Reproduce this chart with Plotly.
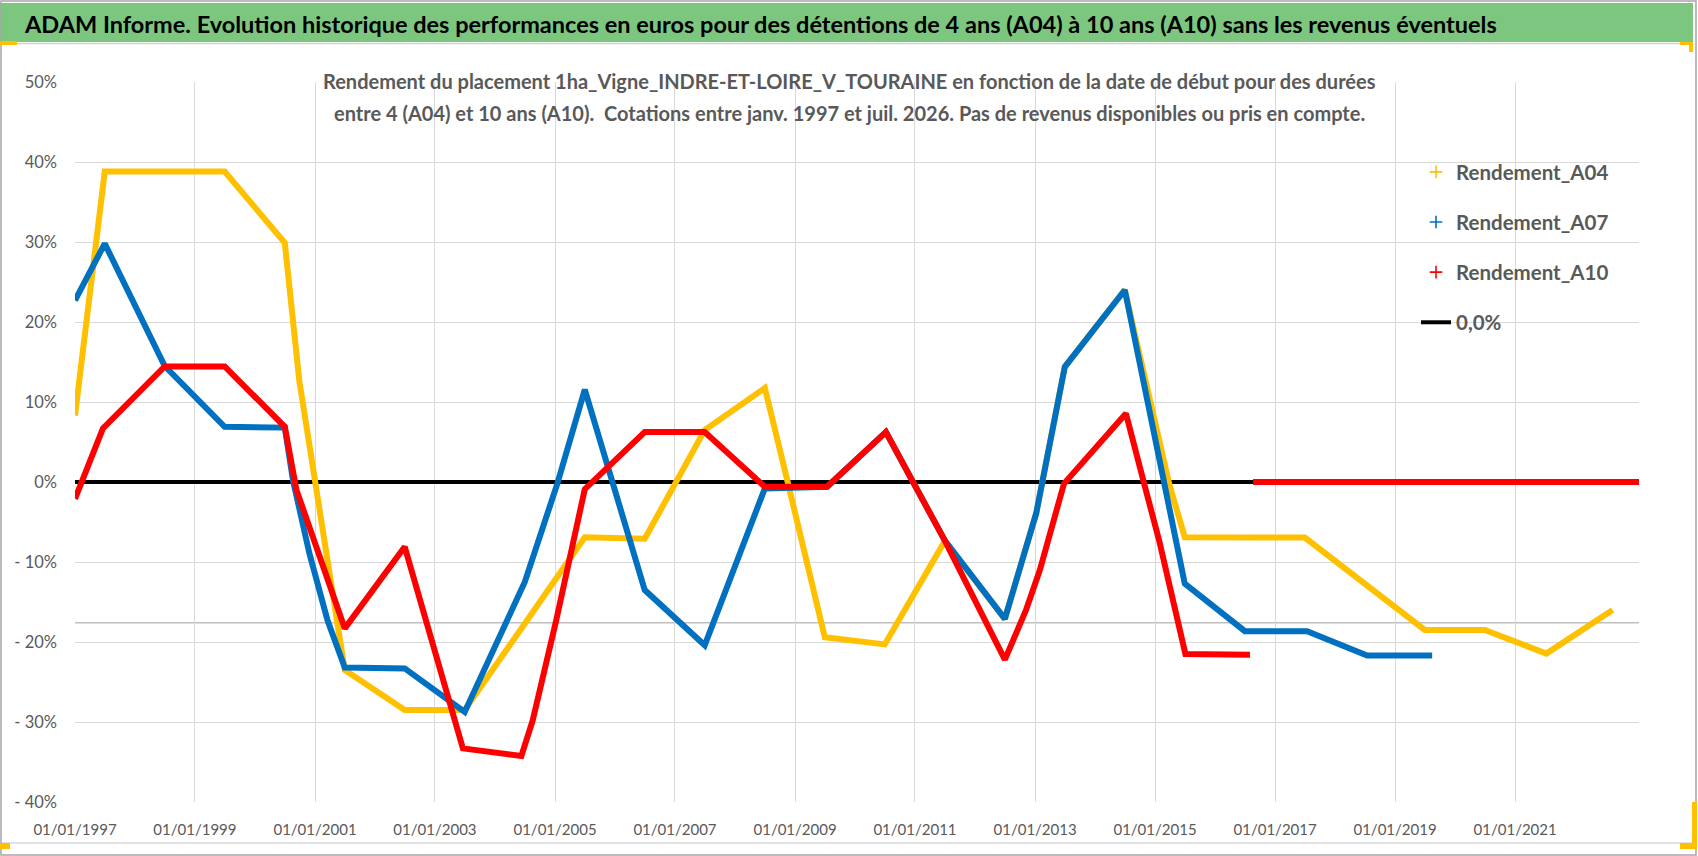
import plotly.graph_objects as go

# ---------------- data ----------------
A04_DATES = ["1997-01-01", "1997-07-01", "1999-07-01", "2000-07-01", "2000-09-27", "2001-07-01",
             "2002-07-01", "2003-07-01", "2005-07-01", "2006-07-01", "2007-07-01", "2008-07-01",
             "2008-11-17", "2009-07-01", "2010-07-01", "2011-07-01", "2012-07-01", "2013-01-08",
             "2013-07-01", "2014-07-01", "2015-03-28", "2015-07-01", "2017-07-01", "2019-07-01",
             "2020-07-01", "2021-07-10", "2022-08-17"]
A04_VALUES = [8.3, 38.8, 38.8, 29.9, 12.7, -23.5,
              -28.5, -28.5, -6.9, -7.1, 6.5, 11.75,
              0.0, -19.4, -20.3, -7.4, -17.1, -3.9,
              14.4, 24.0, -0.2, -6.9, -6.95, -18.5,
              -18.5, -21.45, -16.0]

A07_DATES = ["1997-01-01", "1997-07-01", "1998-07-01", "1999-07-01", "2000-07-01", "2000-08-20",
             "2000-11-28", "2001-03-18", "2001-07-01", "2002-07-01", "2003-07-01", "2004-07-01",
             "2005-01-15", "2005-07-01", "2006-07-01", "2007-07-01", "2008-07-01", "2009-07-15",
             "2010-07-08", "2011-07-01", "2012-07-01", "2013-01-08", "2013-07-01", "2014-07-01",
             "2015-07-01", "2016-07-01", "2017-07-15", "2018-07-15", "2019-08-15"]
A07_VALUES = [22.7, 29.8, 14.5, 6.9, 6.8, 0.2,
              -8.95, -17.3, -23.2, -23.3, -28.75, -12.5,
              -0.2, 11.55, -13.5, -20.4, -0.8, -0.6,
              6.25, -7.3, -17.1, -3.9, 14.4, 24.0,
              -12.7, -18.65, -18.65, -21.7, -21.7]

A10_DATES = ["1997-01-01", "1997-06-20", "1998-07-01", "1999-07-01", "2000-07-01", "2000-09-10",
             "2001-07-01", "2002-07-01", "2003-06-20", "2004-06-10", "2004-08-18", "2005-01-08",
             "2005-07-01", "2006-07-01", "2007-07-01", "2008-07-01", "2009-07-15", "2010-07-08",
             "2011-07-01", "2012-07-01", "2012-11-07", "2013-01-30", "2013-06-26", "2014-07-08",
             "2014-11-06", "2015-01-26", "2015-07-05", "2016-08-01", "2016-08-10",
             "2016-08-20", "2023-01-25"]
A10_VALUES = [-2.1, 6.7, 14.45, 14.45, 6.9, -1.0,
              -18.3, -8.1, -33.3, -34.25, -29.8, -17.3,
              -0.9, 6.25, 6.25, -0.6, -0.6, 6.25,
              -7.3, -22.2, -16.0, -11.0, -0.2, 8.55,
              -1.0, -7.3, -21.5, -21.6, None,
              0.0, 0.0]

ZERO_DATES = ["1997-01-01", "2023-01-25"]
ZERO_VALUES = [0.0, 0.0]

GREY_LINE_LEVEL = -17.6

SERIES_NAMES = ["Rendement_A04", "Rendement_A07", "Rendement_A10"]
ZERO_NAME = "0,0%"

TICK_YEARS = [1997, 1999, 2001, 2003, 2005, 2007, 2009, 2011, 2013, 2015, 2017, 2019, 2021]
Y_TICKS = [-40, -30, -20, -10, 0, 10, 20, 30, 40, 50]

TITLE = "ADAM Informe. Evolution historique des performances en euros pour des détentions de 4 ans (A04) à 10 ans (A10) sans les revenus éventuels"
SUB1 = "Rendement du placement 1ha_Vigne_INDRE-ET-LOIRE_V_TOURAINE en fonction de la date de début pour des durées"
SUB2 = "entre 4 (A04) et 10 ans (A10).  Cotations entre janv. 1997 et juil. 2026. Pas de revenus disponibles ou pris en compte."

# ---------------- styling / layout ----------------
FONT = "Lato, sans-serif"
GREY_TXT = "#595959"
COLORS = ["#FFC000", "#0070C0", "#FF0000"]

W_FIG, H_FIG = 1698, 856
L, R, T, B = 75, 59, 82, 54
PW = W_FIG - L - R
PH = H_FIG - T - B


def px(x):
    return (x - L) / PW


def py(y):
    return (H_FIG - B - y) / PH


x_tickvals = [f"{y}-01-01" for y in TICK_YEARS]
x_ticktext = [f"01/01/{y}" for y in TICK_YEARS]
y_ticktext = [(f"{v}%" if v >= 0 else f"- {abs(v)}%") for v in Y_TICKS]

fig = go.Figure()

# zero line series (drawn first, under the others)
fig.add_trace(go.Scatter(x=ZERO_DATES, y=ZERO_VALUES, mode="lines", name=ZERO_NAME,
                         line=dict(color="black", width=4), legendrank=4,
                         legendgroup="z", hoverinfo="skip"))

for name, d, v, c in zip(SERIES_NAMES, [A04_DATES, A07_DATES, A10_DATES],
                         [A04_VALUES, A07_VALUES, A10_VALUES], COLORS):
    fig.add_trace(go.Scatter(x=d, y=v, mode="lines", name=name, showlegend=False,
                             connectgaps=False, line=dict(color=c, width=6)))

# legend entries with '+' symbols
for i, (name, c) in enumerate(zip(SERIES_NAMES, COLORS)):
    fig.add_trace(go.Scatter(x=[None], y=[None], mode="markers", name=name,
                             legendrank=i + 1, legendgroup=name,
                             marker=dict(symbol="cross-thin", size=9,
                                         color=c, line=dict(width=1.6, color=c))))

shapes = [
    # green title band
    dict(type="rect", xref="paper", yref="paper", x0=px(0), x1=px(1693), y0=py(42), y1=py(3),
         fillcolor="#7DC67F", line=dict(width=0), layer="below"),
    dict(type="line", xref="paper", yref="paper", x0=px(0), x1=px(1693), y0=py(43.5), y1=py(43.5),
         line=dict(color="#D0D0D0", width=1.5), layer="below"),
    dict(type="line", xref="paper", yref="paper", x0=px(0), x1=px(1693), y0=py(843), y1=py(843),
         line=dict(color="#D9D9D9", width=1.5), layer="below"),
    # outer frame
    dict(type="rect", xref="paper", yref="paper", x0=px(1), x1=px(1696), y0=py(855), y1=py(1),
         line=dict(color="#A6A6A6", width=1.5), fillcolor="rgba(0,0,0,0)", layer="below"),
    # white boxes behind subtitle and legend (hide gridlines)
    dict(type="rect", xref="paper", yref="paper", x0=px(308), x1=px(1392), y0=py(132), y1=py(62),
         fillcolor="white", line=dict(width=0), layer="between"),
    dict(type="rect", xref="paper", yref="paper", x0=px(1383), x1=px(1641), y0=py(345), y1=py(148),
         fillcolor="white", line=dict(width=0), layer="between"),
    # grey horizontal line
    dict(type="line", xref="paper", yref="y", x0=0, x1=1, y0=GREY_LINE_LEVEL, y1=GREY_LINE_LEVEL,
         line=dict(color="#BFBFBF", width=1.5), layer="between"),
    # yellow selection handles
    dict(type="rect", xref="paper", yref="paper", x0=px(0), x1=px(17), y0=py(45), y1=py(41),
         fillcolor="#FFC000", line=dict(width=0)),
    dict(type="rect", xref="paper", yref="paper", x0=px(0), x1=px(10), y0=py(849), y1=py(843),
         fillcolor="#FFC000", line=dict(width=0)),
    dict(type="rect", xref="paper", yref="paper", x0=px(1680), x1=px(1697), y0=py(849), y1=py(843),
         fillcolor="#FFC000", line=dict(width=0)),
    dict(type="rect", xref="paper", yref="paper", x0=px(1692), x1=px(1697), y0=py(849), y1=py(802),
         fillcolor="#FFC000", line=dict(width=0)),
    dict(type="rect", xref="paper", yref="paper", x0=px(1680), x1=px(1693), y0=py(45), y1=py(42),
         fillcolor="#FFC000", line=dict(width=0)),
    dict(type="rect", xref="paper", yref="paper", x0=px(1689), x1=px(1693), y0=py(52), y1=py(42),
         fillcolor="#FFC000", line=dict(width=0)),
]

annotations = [
    dict(text=f"<b>{TITLE}</b>", xref="paper", yref="paper", x=px(22), y=py(24),
         xanchor="left", yanchor="middle", showarrow=False,
         font=dict(family=FONT, size=23.5, color="black")),
    dict(text=f"<b>{SUB1}</b>", xref="paper", yref="paper", x=px(849), y=py(81),
         xanchor="center", yanchor="middle", showarrow=False,
         font=dict(family=FONT, size=20, color=GREY_TXT)),
    dict(text=f"<b>{SUB2}</b>", xref="paper", yref="paper", x=px(849), y=py(113),
         xanchor="center", yanchor="middle", showarrow=False,
         font=dict(family=FONT, size=20, color=GREY_TXT)),
]

fig.update_layout(
    width=W_FIG, height=H_FIG,
    margin=dict(l=L, r=R, t=T, b=B, pad=0),
    paper_bgcolor="white", plot_bgcolor="white",
    showlegend=True,
    legend=dict(x=px(1416), y=py(152), xanchor="left", yanchor="top",
                bgcolor="rgba(255,255,255,0)", borderwidth=0,
                font=dict(family=FONT, size=20.5, color=GREY_TXT, weight="bold"),
                traceorder="grouped", tracegroupgap=20.5, itemwidth=30),
    shapes=shapes,
    annotations=annotations,
    xaxis=dict(type="date", range=["1997-01-01", "2023-01-25"],
               tickvals=x_tickvals, ticktext=x_ticktext,
               showgrid=True, gridcolor="#D9D9D9", gridwidth=1.3,
               zeroline=False, showline=False, ticks="",
               ticklabelstandoff=17,
               tickfont=dict(family=FONT, size=15, color=GREY_TXT)),
    yaxis=dict(range=[-40, 50], tickvals=Y_TICKS, ticktext=y_ticktext,
               showgrid=True, gridcolor="#D9D9D9", gridwidth=1.3,
               zeroline=False, showline=False, ticks="",
               ticklabelstandoff=17,
               tickfont=dict(family=FONT, size=16.5, color=GREY_TXT)),
)

fig.write_html("out.html", config={"displayModeBar": False},
               post_script="document.body.style.margin='0px';")
